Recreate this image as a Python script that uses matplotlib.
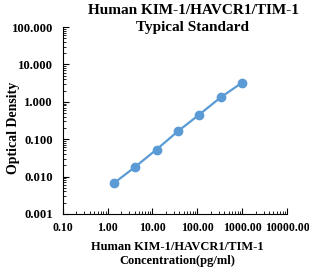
import matplotlib
matplotlib.use('Agg')
import matplotlib.pyplot as plt
from matplotlib.ticker import FixedLocator, LogLocator, NullFormatter

conc = [1.37, 4.12, 12.35, 37.04, 111.1, 333.3, 1000.0]
od = [0.0066, 0.0182, 0.053, 0.163, 0.456, 1.318, 3.25]
xticks = [0.1, 1, 10, 100, 1000, 10000]
xtick_labels = ['0.10', '1.00', '10.00', '100.00', '1000.00', '10000.00']
yticks = [0.001, 0.01, 0.1, 1, 10, 100]
ytick_labels = ['0.001', '0.010', '0.100', '1.000', '10.000', '100.000']

plt.rcParams['font.family'] = ['Liberation Serif', 'DejaVu Serif']
plt.rcParams['font.weight'] = 'bold'

W, H = 309, 271
fig = plt.figure(figsize=(W / 100, H / 100), dpi=100)
ax = fig.add_axes([62.7 / W, (H - 214) / H, (287 - 62.7) / W, (214 - 27) / H])

ax.plot(conc, od, color='#5b9bd5', linewidth=1.6, marker='o', markersize=6)

ax.set_xscale('log')
ax.set_yscale('log')
ax.set_xlim(0.1, 10000)
ax.set_ylim(0.001, 100)

ax.xaxis.set_major_locator(FixedLocator(xticks))
ax.set_xticklabels(xtick_labels)
ax.yaxis.set_major_locator(FixedLocator(yticks))
ax.set_yticklabels(ytick_labels)
ax.xaxis.set_minor_locator(LogLocator(base=10, subs=range(2, 10)))
ax.yaxis.set_minor_locator(LogLocator(base=10, subs=range(2, 10)))
ax.xaxis.set_minor_formatter(NullFormatter())
ax.yaxis.set_minor_formatter(NullFormatter())

ax.spines['top'].set_visible(False)
ax.spines['right'].set_visible(False)
for s in ['left', 'bottom']:
    ax.spines[s].set_linewidth(0.8)

ax.tick_params(which='major', direction='in', length=4, width=0.8)
ax.tick_params(which='minor', direction='in', length=2, width=0.6)
ax.tick_params(axis='x', which='major', labelsize=8.6, pad=6)
ax.tick_params(axis='y', which='major', labelsize=9.2, pad=7)

# title and axis labels placed like the reference
fig.text(193 / W, 1 - 11 / H, 'Human KIM-1/HAVCR1/TIM-1', ha='center', va='center',
         fontsize=11, fontweight='bold')
fig.text(193 / W, 1 - 28 / H, 'Typical Standard', ha='center', va='center',
         fontsize=11, fontweight='bold')
fig.text(177 / W, 1 - 247 / H, 'Human KIM-1/HAVCR1/TIM-1', ha='center', va='center',
         fontsize=9, fontweight='bold')
fig.text(177 / W, 1 - 261 / H, 'Concentration(pg/ml)', ha='center', va='center',
         fontsize=9, fontweight='bold')
fig.text(14 / W, 1 - 128 / H, 'Optical Density', ha='center', va='center', rotation=90,
         fontsize=10, fontweight='bold')

fig.savefig('out.png', dpi=100)
